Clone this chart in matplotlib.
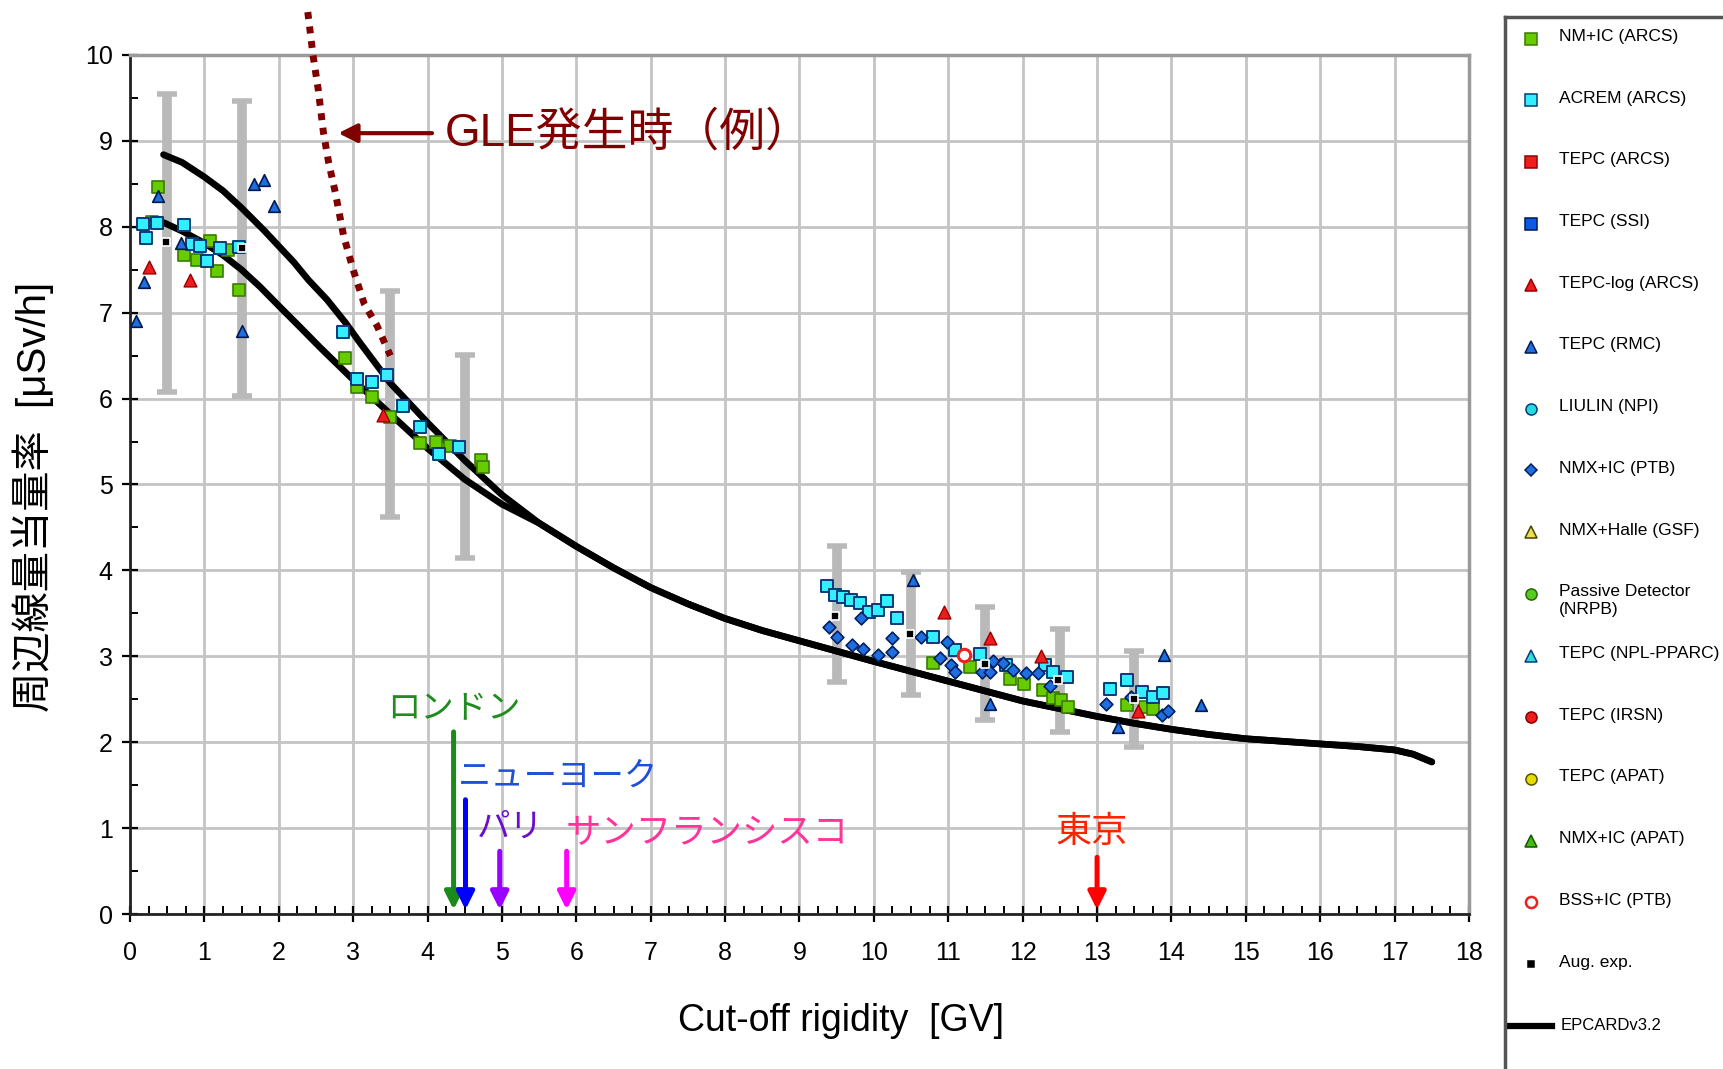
import numpy as np
import matplotlib
matplotlib.use("Agg")
import matplotlib.pyplot as plt

plt.rcParams['font.family'] = ['Liberation Sans', 'Noto Sans CJK JP', 'DejaVu Sans']

# ---- data ----
# NM+IC (ARCS) - green squares
nmic_x = [0.37, 0.29, 0.72, 0.9, 1.08, 1.17, 1.32, 1.46, 2.89, 3.05, 3.25, 3.49, 3.9, 4.12,
          4.3, 4.72, 4.74, 10.8, 11.29, 11.83, 12.02, 12.28, 12.41, 12.52, 12.61, 13.4, 13.65, 13.75]
nmic_y = [8.46, 8.06, 7.67, 7.61, 7.83, 7.49, 7.73, 7.27, 6.47, 6.14, 6.02, 5.79, 5.48, 5.5,
          5.45, 5.29, 5.2, 2.92, 2.88, 2.74, 2.68, 2.61, 2.51, 2.49, 2.41, 2.43, 2.41, 2.39]
# ACREM (ARCS) - cyan squares
acrem_x = [0.18, 0.36, 0.22, 0.73, 0.83, 0.94, 1.04, 1.21, 1.46, 2.87, 3.05, 3.25, 3.46, 3.67,
           3.9, 4.15, 4.42, 9.37, 9.48, 9.58, 9.69, 9.81, 9.94, 10.06, 10.17, 10.31, 10.8,
           11.09, 11.42, 11.78, 12.3, 12.41, 12.59, 13.17, 13.4, 13.6, 13.75, 13.89]
acrem_y = [8.03, 8.04, 7.87, 8.02, 7.8, 7.78, 7.6, 7.75, 7.77, 6.77, 6.23, 6.19, 6.27, 5.91,
           5.67, 5.36, 5.44, 3.82, 3.71, 3.69, 3.66, 3.62, 3.51, 3.54, 3.64, 3.45, 3.22,
           3.07, 3.03, 2.9, 2.9, 2.82, 2.76, 2.62, 2.72, 2.59, 2.53, 2.57]
# TEPC (RMC) - blue triangles
rmc_x = [0.08, 0.19, 0.38, 0.69, 1.5, 1.67, 1.8, 1.93, 10.53, 11.56, 13.28, 13.9, 14.4]
rmc_y = [6.9, 7.36, 8.36, 7.81, 6.79, 8.5, 8.54, 8.24, 3.89, 2.45, 2.18, 3.02, 2.43]
# TEPC-log (ARCS) - red triangles
tlog_x = [0.25, 0.8, 3.4, 10.94, 11.56, 12.25, 13.55]
tlog_y = [7.53, 7.38, 5.81, 3.52, 3.21, 3.0, 2.36]
# NMX+IC (PTB) - blue diamonds
nmx_x = [9.39, 9.5, 9.7, 9.83, 9.86, 10.06, 10.24, 10.24, 10.64, 10.98, 10.89, 11.04, 11.09,
         11.45, 11.56, 11.6, 11.74, 11.87, 12.05, 12.21, 12.37, 13.12, 13.46, 13.87, 13.96]
nmx_y = [3.34, 3.23, 3.13, 3.45, 3.09, 3.02, 3.21, 3.05, 3.22, 3.17, 2.98, 2.9, 2.82,
         2.82, 2.82, 2.94, 2.92, 2.84, 2.8, 2.8, 2.65, 2.45, 2.53, 2.32, 2.36]
# BSS+IC (PTB)
bss_x = [11.21]
bss_y = [3.02]
# Aug. exp. with ranges
aug_x = [0.48, 1.5, 9.48, 10.49, 11.49, 12.48, 13.5]
aug_y = [7.82, 7.75, 3.47, 3.26, 2.91, 2.72, 2.5]
bar_x = [0.5, 1.5, 3.5, 4.5, 9.5, 10.5, 11.5, 12.5, 13.5]
bar_lo = [6.08, 6.03, 4.62, 4.15, 2.70, 2.55, 2.26, 2.12, 1.94]
bar_hi = [9.55, 9.47, 7.25, 6.51, 4.28, 3.98, 3.57, 3.32, 3.06]

# EPCARD v3.2 curves
upper_x = [0.45, 0.7, 1.0, 1.25, 1.5, 1.8, 2.2, 2.4, 2.65, 2.9, 3.1, 3.5, 4.0, 4.5, 5.0]
upper_y = [8.84, 8.75, 8.58, 8.42, 8.22, 7.96, 7.59, 7.38, 7.15, 6.88, 6.64, 6.18, 5.72, 5.28, 4.88]
lower_x = [0.45, 0.7, 1.0, 1.25, 1.5, 1.75, 2.0, 2.3, 2.55, 3.0, 3.5, 4.0, 4.5, 5.0]
lower_y = [8.05, 7.95, 7.81, 7.67, 7.5, 7.3, 7.08, 6.82, 6.6, 6.22, 5.82, 5.42, 5.06, 4.77]
tail_x = [5.5, 6.0, 6.5, 7, 7.5, 8, 8.5, 9, 10, 11, 12, 13, 13.5, 14, 14.5, 15, 15.5, 16,
          16.5, 17, 17.25, 17.5]
tail_y = [4.55, 4.28, 4.03, 3.8, 3.61, 3.44, 3.3, 3.18, 2.94, 2.71, 2.48, 2.3, 2.22, 2.15,
          2.09, 2.04, 2.01, 1.98, 1.95, 1.91, 1.86, 1.77]

# GLE example curve
gle_x = [2.39, 2.46, 2.53, 2.6, 2.67, 2.76, 2.87, 3.0, 3.15, 3.32, 3.5]
gle_y = [10.5, 10.0, 9.6, 9.1, 8.75, 8.4, 7.9, 7.5, 7.1, 6.85, 6.5]

# cities: name, arrow x, arrow start y, text x, text y
city_names = ['ロンドン', 'ニューヨーク', 'パリ', 'サンフランシスコ', '東京']
city_x = [4.35, 4.51, 4.97, 5.87, 13.0]
city_top = [2.12, 1.33, 0.73, 0.73, 0.66]
city_tx = [4.35, 4.41, 4.66, 5.85, 12.93]
city_ty = [2.39, 1.6, 1.01, 0.94, 0.95]
city_ha = ['center', 'left', 'left', 'left', 'center']
city_fs = [24, 24, 24, 25.5, 26]
city_tcol = ['#1f8c1f', '#1e4fd8', '#6a0dd0', '#ff3399', '#ff2200']
city_acol = ['#1a8a1a', '#0000ff', '#9900ff', '#ff00ff', '#ff0000']

# ---- figure ----
fig = plt.figure(figsize=(17.24, 10.69), dpi=100)
ax = fig.add_axes([130 / 1724, 155 / 1069, 1339 / 1724, 859 / 1069])

ax.set_xlim(0, 18)
ax.set_ylim(0, 10)
ax.set_xticks(range(0, 19))
ax.set_yticks(range(0, 11))
ax.set_xticks(np.arange(0, 18.01, 0.25), minor=True)
ax.set_yticks(np.arange(0, 10.01, 0.5), minor=True)
ax.grid(True, which='major', color='#c4c4c4', lw=2, zorder=0)
ax.set_axisbelow(True)
ax.tick_params(which='major', direction='inout', length=11, width=1.6, labelsize=18)
ax.tick_params(which='minor', direction='in', length=6, width=1.4)
ax.tick_params(axis='x', which='major', pad=14)
ax.tick_params(axis='y', which='major', pad=7)
for s in ['left', 'bottom']:
    ax.spines[s].set_linewidth(2)
    ax.spines[s].set_color('#222222')
for s in ['top', 'right']:
    ax.spines[s].set_linewidth(2.5)
    ax.spines[s].set_color('#9a9a9a')

ax.set_xlabel('Cut-off rigidity  [GV]', fontsize=27)
ax.xaxis.set_label_coords(0.531, -0.104)
ax.set_ylabel('周辺線量当量率  [μSv/h]', fontsize=29)
ax.yaxis.set_label_coords(-0.057, 0.485)

# error ranges
bx = np.array(bar_x)
lo = np.array(bar_lo)
hi = np.array(bar_hi)
mid = (lo + hi) / 2
ax.errorbar(bx, mid, yerr=[mid - lo, hi - mid], fmt='none', ecolor='#b9b9b9',
            elinewidth=7, capsize=7, capthick=4, zorder=2)

# model curves
ax.plot(upper_x + tail_x, upper_y + tail_y, color='black', lw=4.8, solid_capstyle='round',
        solid_joinstyle='round', zorder=3)
ax.plot(lower_x + tail_x, lower_y + tail_y, color='black', lw=4.8, solid_capstyle='round',
        solid_joinstyle='round', zorder=3)

# measurements
ax.scatter(nmic_x, nmic_y, marker='s', s=75, c='#66cc00', edgecolors='#3a7a00', linewidths=1.2, zorder=4)
ax.scatter(acrem_x, acrem_y, marker='s', s=75, c='#33eeff', edgecolors='#0a3a78', linewidths=1.4, zorder=4)
ax.scatter(rmc_x, rmc_y, marker='^', s=70, c='#1f6fe0', edgecolors='#001a4d', linewidths=1.2, zorder=4)
ax.scatter(tlog_x, tlog_y, marker='^', s=85, c='#ee1c1c', edgecolors='#990000', linewidths=1.0, zorder=4)
ax.scatter(nmx_x, nmx_y, marker='D', s=42, c='#1f6fe0', edgecolors='#002060', linewidths=1.2, zorder=4)
ax.scatter(bss_x, bss_y, marker='o', s=80, c='white', edgecolors='#ee2020', linewidths=2.2, zorder=5)
ax.scatter(aug_x, aug_y, marker='s', s=40, c='black', edgecolors='white', linewidths=1.2, zorder=5)

# GLE example
ax.plot(gle_x, gle_y, color='#800000', lw=5, linestyle=(0, (1, 1.1)), clip_on=False, zorder=3)
ax.annotate('', xy=(2.8, 9.09), xytext=(4.06, 9.09),
            arrowprops=dict(arrowstyle='-|>', color='#800000', lw=3, mutation_scale=28,
                            shrinkA=0, shrinkB=0))
ax.text(4.23, 9.09, 'GLE発生時（例）', color='#800000', fontsize=33, va='center', ha='left')

# cities
for name, x, top, tx, ty, ha, fs, tc, ac in zip(city_names, city_x, city_top, city_tx, city_ty,
                                               city_ha, city_fs, city_tcol, city_acol):
    ax.annotate('', xy=(x, 0.05), xytext=(x, top),
                arrowprops=dict(arrowstyle='-|>', color=ac, lw=3.6, mutation_scale=26,
                                shrinkA=0, shrinkB=0), annotation_clip=False)
    ax.text(tx, ty, name, color=tc, fontsize=fs, ha=ha, va='center',
            family=['Noto Sans CJK JP', 'DejaVu Sans'])

# ---- legend panel ----
leg_labels = ['NM+IC (ARCS)', 'ACREM (ARCS)', 'TEPC (ARCS)', 'TEPC (SSI)', 'TEPC-log (ARCS)',
              'TEPC (RMC)', 'LIULIN (NPI)', 'NMX+IC (PTB)', 'NMX+Halle (GSF)',
              'Passive Detector\n(NRPB)', 'TEPC (NPL-PPARC)', 'TEPC (IRSN)', 'TEPC (APAT)',
              'NMX+IC (APAT)', 'BSS+IC (PTB)', 'Aug. exp.', 'EPCARDv3.2']
leg_marker = ['s', 's', 's', 's', '^', '^', 'o', 'D', '^', 'o', '^', 'o', 'o', '^', 'o', 's', None]
leg_face = ['#66cc00', '#33eeff', '#ee1c1c', '#0a5ae6', '#ee1c1c', '#1f6fe0', '#22dddd',
            '#1f6fe0', '#eedd55', '#55cc22', '#33dddd', '#ee1c1c', '#e6dd00', '#44bb11',
            'white', 'black', 'black']
leg_edge = ['#3a7a00', '#0a3a78', '#990000', '#001a4d', '#990000', '#001a4d', '#0a3a78',
            '#002060', '#444400', '#2a6600', '#0a3a78', '#880000', '#555500', '#1a5500',
            '#ee2020', 'black', 'black']

lax = fig.add_axes([1505 / 1724, 0, 0.2, (1069 - 17) / 1069])
lax.set_xlim(1505, 1505 + 0.2 * 1724)
lax.set_ylim(1069, 17)
lax.set_xticks([])
lax.set_yticks([])
lax.spines['right'].set_visible(False)
lax.spines['bottom'].set_visible(False)
for s in ['left', 'top']:
    lax.spines[s].set_linewidth(2.5)
    lax.spines[s].set_color('#555555')

for i, (lab, m, fc, ec) in enumerate(zip(leg_labels, leg_marker, leg_face, leg_edge)):
    yy = 38.5 + 61.7 * i
    if m is None:
        lax.plot([1508, 1552], [yy, yy], color='black', lw=4.5)
        lax.text(1561, yy, lab, fontsize=12, va='center', ha='left')
        continue
    ms = 5 if lab.startswith('Aug') else 8
    lax.plot([1531], [yy], marker=m, ms=ms if m != 'D' else 6.5, mfc=fc, mec=ec,
             mew=1.8 if fc == 'white' else 1.1, linestyle='none')
    lax.text(1559, yy - 9.5, lab, fontsize=12.5, va='top', ha='left', linespacing=1.25)

fig.savefig('out.png', dpi=100)
